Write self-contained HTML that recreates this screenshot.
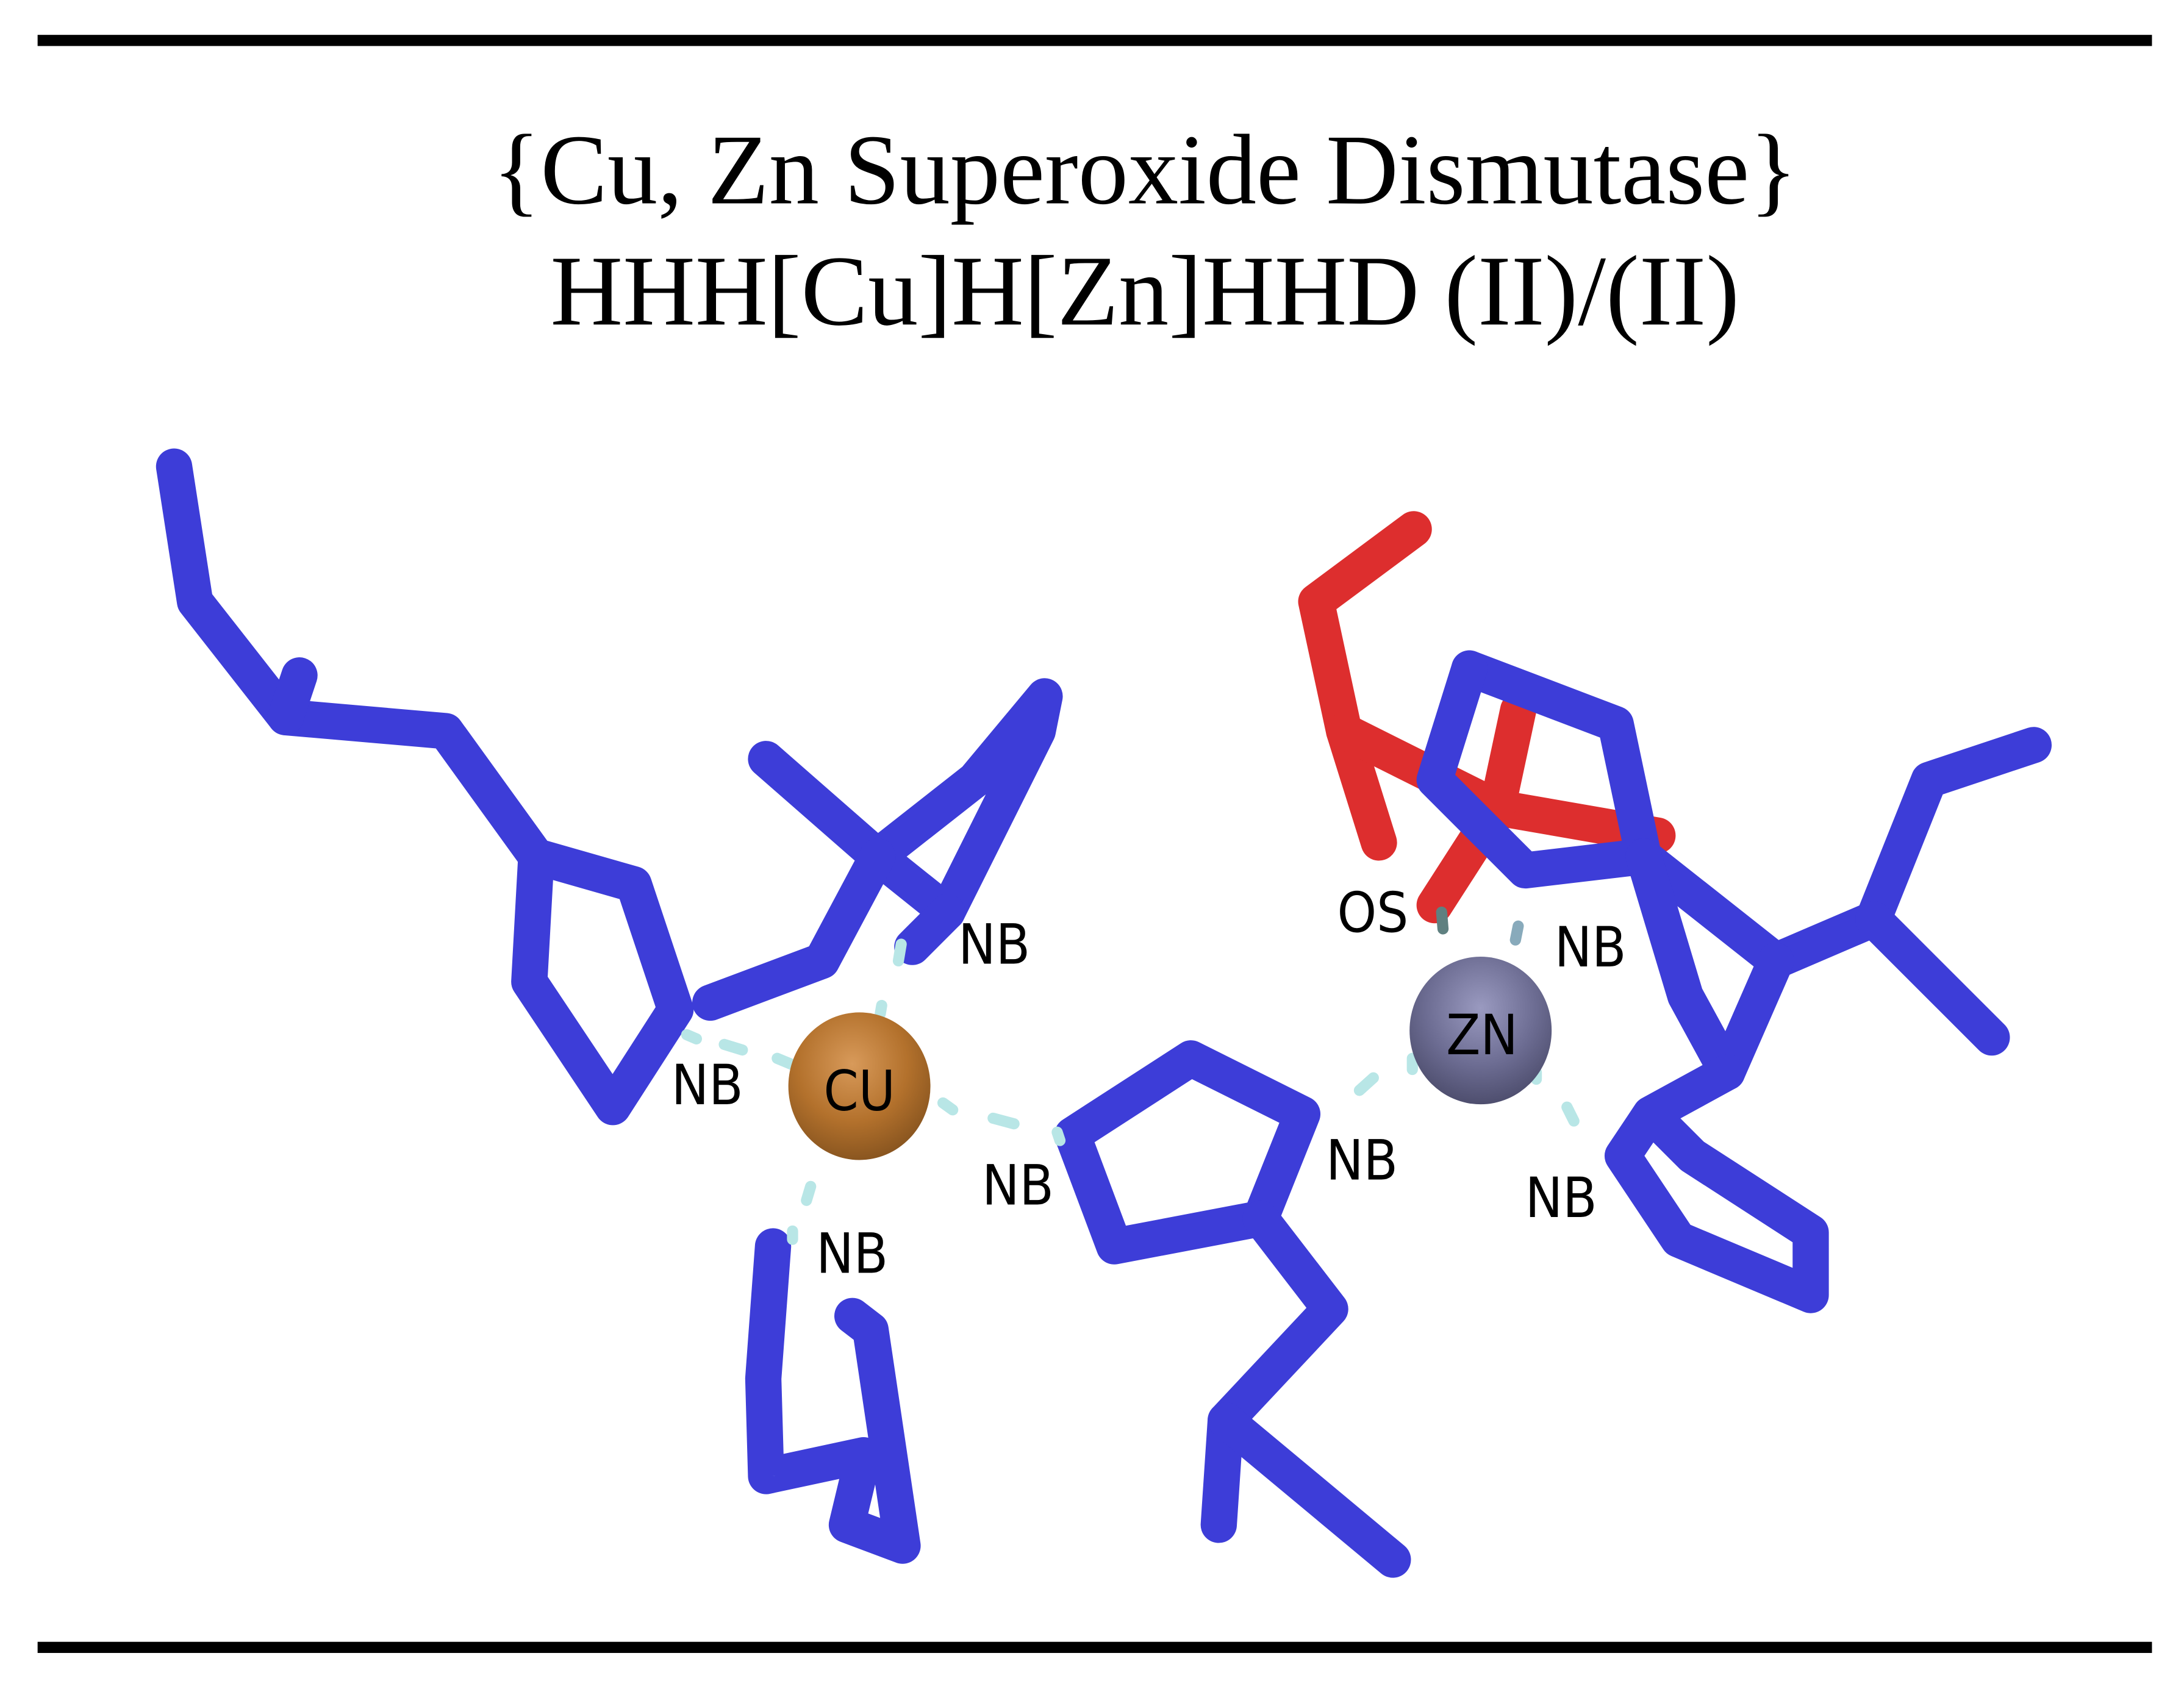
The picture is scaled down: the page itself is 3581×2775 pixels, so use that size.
<!DOCTYPE html>
<html><head><meta charset="utf-8"><style>
html,body{margin:0;padding:0;background:#fff;}
svg{display:block;}
</style></head><body>
<svg width="3581" height="2775" viewBox="0 0 1568 1215" xmlns="http://www.w3.org/2000/svg">
<defs>
<radialGradient id="cu" cx="0.45" cy="0.35" r="0.65">
<stop offset="0" stop-color="#d89a5a"/><stop offset="0.6" stop-color="#b3712c"/><stop offset="1" stop-color="#8a5620"/>
</radialGradient>
<radialGradient id="zn" cx="0.5" cy="0.35" r="0.65">
<stop offset="0" stop-color="#9a9ac0"/><stop offset="0.6" stop-color="#6c6c92"/><stop offset="1" stop-color="#4e4e6e"/>
</radialGradient>
</defs>
<rect width="1568" height="1215" fill="#fff"/>
<rect x="27" y="25" width="1518" height="8" fill="#000"/>
<rect x="27" y="1179" width="1518" height="8" fill="#000"/>
<g font-family="Liberation Serif, serif" font-size="72" text-anchor="middle" fill="#000">
<text x="822" y="146">{Cu, Zn Superoxide Dismutase}</text>
<text x="822" y="233">HHH[Cu]H[Zn]HHD (II)/(II)</text>
</g>
<g fill="none" stroke-linecap="round" stroke-linejoin="round" stroke-width="26">
<g stroke="#dd2e2e">
<polyline points="1015,380 945,432 965,525 990,605"/>
<polyline points="965,525 1075,580 1190,600"/>
<polyline points="1075,580 1030,650"/>
<polyline points="1075,580 1090,510"/>
</g>
<g stroke="#3d3dd8">
<polyline points="125,335 140,432 205,515 320,525 385,615 380,705 440,795 485,725 455,635 385,615"/>
<polyline points="205,515 215,485"/>
<polyline points="550,545 630,615 700,560 750,500 745,525 680,655 630,615"/>
<polyline points="630,615 590,690 510,720"/>
<polyline points="680,655 655,680"/>
<polyline points="555,895 548,990 550,1060 620,1045 608,1095 648,1110 625,955 612,945"/>
<polyline points="770,815 855,760 935,800 905,875 800,895 770,815"/>
<polyline points="905,875 955,940 880,1020 875,1095"/>
<polyline points="880,1020 1000,1120"/>
<polyline points="1055,480 1160,520 1180,615 1275,690 1345,660 1385,560 1460,535"/>
<polyline points="1345,660 1430,745"/>
<polyline points="1055,480 1030,560 1095,625 1180,615"/>
<polyline points="1180,615 1210,715 1240,770 1275,690"/>
<polyline points="1240,770 1185,800 1165,830 1205,890 1300,930 1300,885 1215,830 1185,800"/>
</g>
</g>
<g stroke="#b8e6e6" stroke-width="8" stroke-linecap="round" fill="none">
<line x1="493" y1="743" x2="500" y2="746"/>
<line x1="520" y1="750" x2="533" y2="754"/>
<line x1="558" y1="760" x2="570" y2="765"/>
<line x1="647" y1="678" x2="645" y2="690"/>
<line x1="633" y1="722" x2="632" y2="728"/>
<line x1="677" y1="792" x2="684" y2="797"/>
<line x1="713" y1="803" x2="728" y2="807"/>
<line x1="759" y1="813" x2="761" y2="819"/>
<line x1="582" y1="852" x2="579" y2="862"/>
<line x1="569" y1="884" x2="569" y2="890"/>
<line x1="1035" y1="655" x2="1036" y2="667" stroke="#5f8080"/>
<line x1="1090" y1="665" x2="1088" y2="675" stroke="#8ab"/>
<line x1="1076" y1="697" x2="1076" y2="705"/>
<line x1="976" y1="783" x2="986" y2="774"/>
<line x1="1014" y1="760" x2="1014" y2="768"/>
<line x1="1103" y1="775" x2="1103" y2="770"/>
<line x1="1125" y1="795" x2="1130" y2="805"/>
</g>
<ellipse cx="617" cy="780" rx="51" ry="53" fill="url(#cu)"/>
<ellipse cx="1063" cy="740" rx="51" ry="53" fill="url(#zn)"/>
<g font-family="DejaVu Sans Condensed, DejaVu Sans, sans-serif" font-size="40" fill="#000">
<text x="688" y="692">NB</text>
<text x="482" y="793">NB</text>
<text x="705" y="865">NB</text>
<text x="586" y="914">NB</text>
<text x="952" y="847">NB</text>
<text x="1116" y="694">NB</text>
<text x="1095" y="874">NB</text>
<text x="960" y="669">OS</text>
<text x="617" y="797" text-anchor="middle">CU</text>
<text x="1064" y="757" text-anchor="middle">ZN</text>
</g>
</svg>
</body></html>
